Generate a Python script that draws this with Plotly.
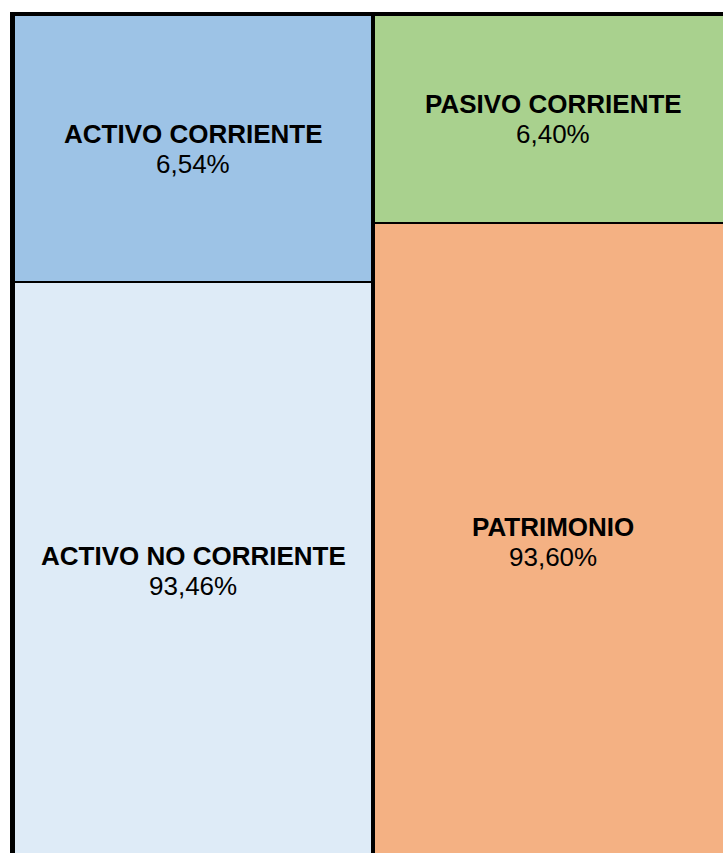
import plotly.graph_objects as go

# Data
columns = ["Activo", "Pasivo y Patrimonio"]
top_labels = ["ACTIVO CORRIENTE", "PASIVO CORRIENTE"]
top_pct = ["6,54%", "6,40%"]
bottom_labels = ["ACTIVO NO CORRIENTE", "PATRIMONIO"]
bottom_pct = ["93,46%", "93,60%"]
# visual share of each column's height
top_share = [31.6, 24.6]
bottom_share = [68.4, 75.4]

top_colors = ["#9DC3E6", "#A9D18E"]
bottom_colors = ["#DEEBF7", "#F4B183"]

W, H = 723, 853
left_page, top_page = 14, 15
col_pitch = 360.0
bar_w = 358.0 / col_pitch
col_height_px = 845.5

fig = go.Figure()
xs = [0, 1]
fig.add_trace(go.Bar(x=xs, y=bottom_share, width=[bar_w, bar_w],
                     marker=dict(color=bottom_colors, line=dict(color="black", width=2)),
                     hoverinfo="skip", showlegend=False))
fig.add_trace(go.Bar(x=xs, y=top_share, width=[bar_w, bar_w],
                     marker=dict(color=top_colors, line=dict(color="black", width=2)),
                     hoverinfo="skip", showlegend=False))

FONT = "Liberation Sans, Arial, sans-serif"
SHIFT = 15
for i in range(2):
    centers = [bottom_share[i] / 2, bottom_share[i] + top_share[i] / 2]
    names = [bottom_labels[i], top_labels[i]]
    pcts = [bottom_pct[i], top_pct[i]]
    for c, n, p in zip(centers, names, pcts):
        fig.add_annotation(x=xs[i], y=c, text=f"<b>{n}</b>", yshift=SHIFT,
                           showarrow=False, font=dict(family=FONT, size=26, color="black"))
        fig.add_annotation(x=xs[i], y=c, text=p, yshift=-SHIFT,
                           showarrow=False, font=dict(family=FONT, size=26, color="black"))

x0 = -bar_w / 2
x_right = x0 + (W - left_page) / col_pitch
y_bottom = 100 - (H - top_page) / col_height_px * 100

fig.update_layout(
    width=W, height=H, autosize=False,
    margin=dict(l=left_page, r=0, t=top_page, b=0, autoexpand=False),
    paper_bgcolor="white", plot_bgcolor="white",
    barmode="stack",
    xaxis=dict(range=[x0, x_right], visible=False, fixedrange=True),
    yaxis=dict(range=[y_bottom, 100], showgrid=False, zeroline=False,
               showticklabels=False, ticks="", showline=True,
               linecolor="black", linewidth=4, fixedrange=True),
    xaxis2=dict(overlaying="x", side="top", range=[x0, x_right],
                showline=True, linecolor="black", linewidth=3,
                showticklabels=False, ticks="", showgrid=False, zeroline=False),
)
fig.add_trace(go.Scatter(x=[None], y=[None], xaxis="x2", showlegend=False, hoverinfo="skip"))

fig.write_html("out.html", config={"responsive": False, "displayModeBar": False},
               post_script="document.body.style.margin='0';document.body.style.overflow='hidden';")
